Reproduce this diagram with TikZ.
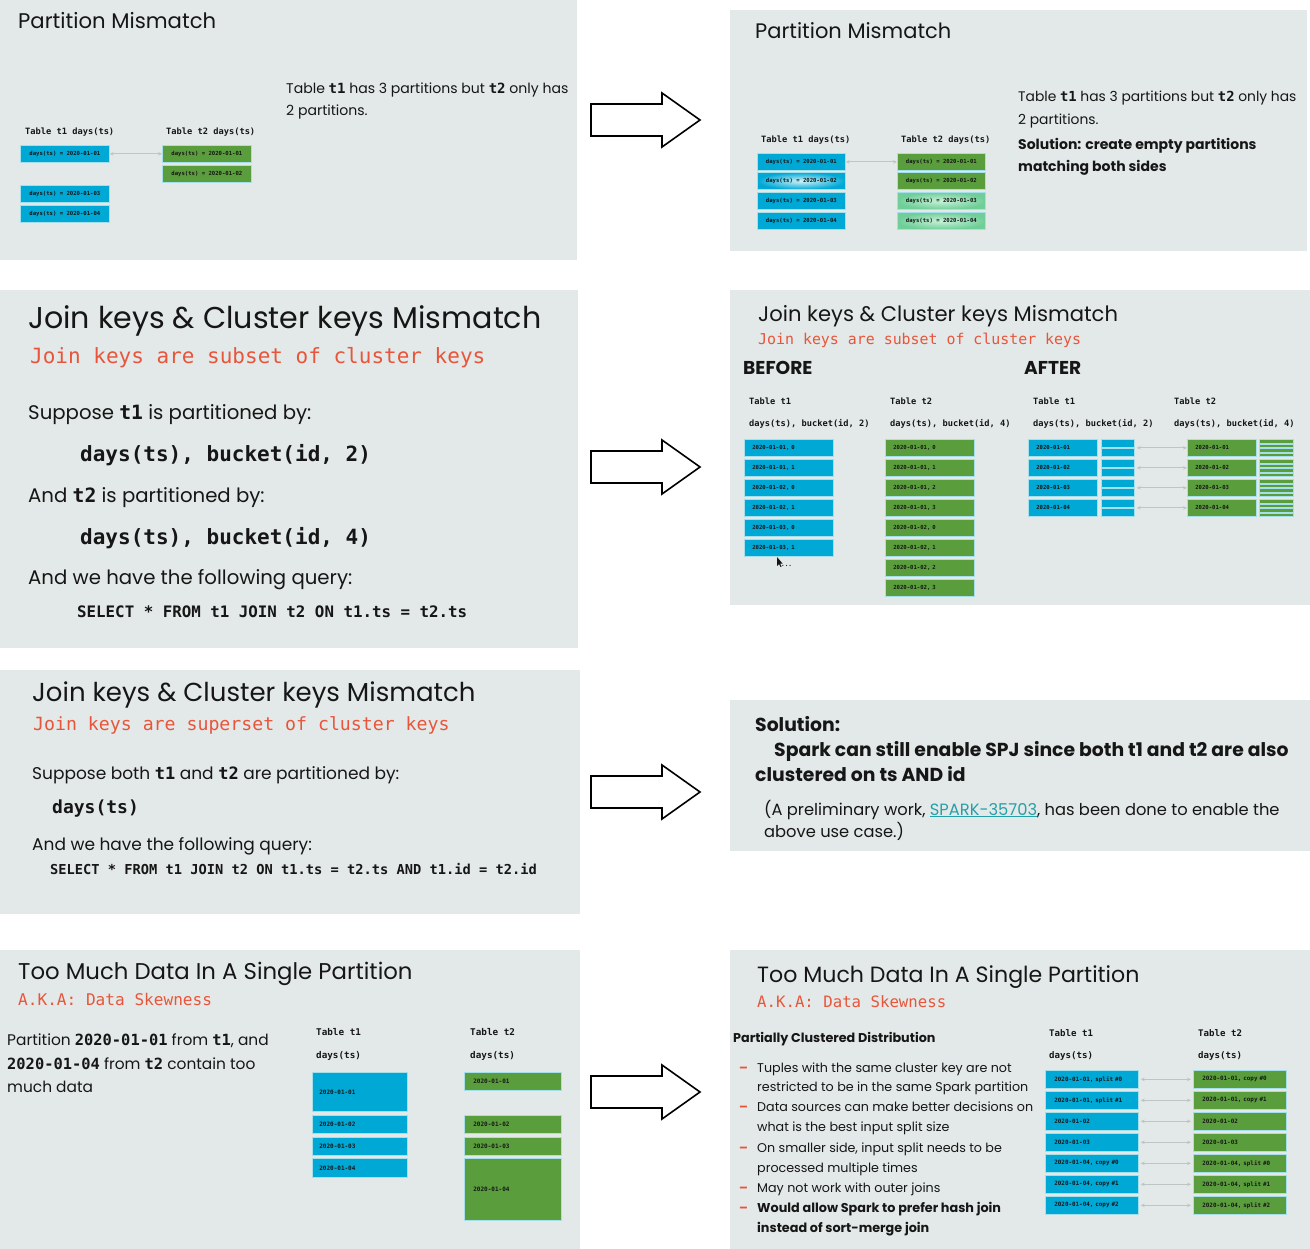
\documentclass[tikz,border=0pt]{standalone}
\usepackage{fontspec}
\setmainfont{Poppins}
\newfontfamily\monof{DejaVu Sans Mono}
\usetikzlibrary{arrows.meta}
\definecolor{panelbg}{RGB}{227,233,232}
\definecolor{cblue}{RGB}{0,168,214}
\definecolor{cgreen}{RGB}{90,157,60}
\definecolor{cline}{RGB}{165,224,234}
\definecolor{kred}{RGB}{232,85,58}
\definecolor{ink}{RGB}{22,22,22}
\definecolor{conngrey}{RGB}{190,197,196}
\definecolor{linkteal}{RGB}{38,160,168}
\definecolor{mint}{RGB}{112,206,152}
\definecolor{mintlight}{RGB}{200,242,218}
\definecolor{cyanlight}{RGB}{210,245,250}
\newcommand\ff[1]{\fontsize{#1}{#1}\selectfont}
\newcommand\cb[1]{{\monof\bfseries #1}}
\newcommand\blockarrow[1]{\draw[barrow] (591,#1-16) -- (662,#1-16) -- (662,#1-27) -- (700,#1) -- (662,#1+27) -- (662,#1+16) -- (591,#1+16) -- cycle;}
\begin{document}
\begin{tikzpicture}[x=1pt,y=-1pt,
  panel/.style={fill=panelbg},
  txt/.style={anchor=base west, inner sep=0pt, text=ink},
  red/.style={txt, text=kred},
  cell/.style={draw=cline, line width=0.7pt, anchor=north west, inner sep=0pt, text=ink, font=\monof\bfseries\ff{5.6}},
  bc/.style={cell, fill=cblue},
  gc/.style={cell, fill=cgreen},
  lft/.style={text width=#1, align=left, inner xsep=8pt},
  dashmark/.style={txt, text=kred, font=\bfseries\ff{12.7}},
  conn/.style={{Stealth[length=4pt,width=3.5pt]}-{Stealth[length=4pt,width=3.5pt]}, draw=conngrey, line width=1.1pt},
  barrow/.style={draw=black, fill=white, line width=1.6pt, line join=miter}
]
\useasboundingbox (0,0) rectangle (1310,1249);
% panels
\fill[white] (0,0) rectangle (1310,1249);
\fill[panel] (0,0) rectangle (577,260);
\fill[panel] (730,10) rectangle (1307,251);
\fill[panel] (0,290) rectangle (578,648);
\fill[panel] (730,290) rectangle (1310,605);
\fill[panel] (0,670) rectangle (580,914);
\fill[panel] (730,700) rectangle (1310,851);
\fill[panel] (0,950) rectangle (580,1249);
\fill[panel] (730,950) rectangle (1310,1249);
% block arrows
\blockarrow{120}
\blockarrow{467}
\blockarrow{792}
\blockarrow{1092}

%% ---------- Panel 1 ----------
\node[txt,font=\ff{21.2}] (p1t) at (18,29) {Partition Mismatch};
\node[txt,font=\ff{14.05}] (p1l1) at (286,94) {Table \cb{t1} has 3 partitions but \cb{t2} only has};
\node[txt,font=\ff{14.05}] (p1l2) at (286,116) {2 partitions.};
\node[txt,font=\monof\bfseries\ff{8.7}] (p1h1) at (25,135) {Table t1 days(ts)};
\node[txt,font=\monof\bfseries\ff{8.7}] (p1h2) at (166,135) {Table t2 days(ts)};
\node[bc,minimum width=89,minimum height=17] (p1a1) at (20,145) {days(ts) = 2020-01-01};
\node[bc,minimum width=89,minimum height=17] (p1a3) at (20,185) {days(ts) = 2020-01-03};
\node[bc,minimum width=89,minimum height=17] (p1a4) at (20,205) {days(ts) = 2020-01-04};
\node[gc,minimum width=89,minimum height=17] (p1b1) at (162,145) {days(ts) = 2020-01-01};
\node[gc,minimum width=89,minimum height=17] (p1b2) at (162,165) {days(ts) = 2020-01-02};
\draw[conn] (p1a1.east) -- (p1b1.west);

%% ---------- Panel 2 ----------
\node[txt,font=\ff{21}] (p2t) at (755,39) {Partition Mismatch};
\node[txt,font=\ff{13.85}] (p2l1) at (1018,102) {Table \cb{t1} has 3 partitions but \cb{t2} only has};
\node[txt,font=\ff{13.85}] (p2l2) at (1018,125) {2 partitions.};
\node[txt,font=\bfseries\ff{14}] (p2l3) at (1018,150) {Solution: create empty partitions};
\node[txt,font=\bfseries\ff{14}] (p2l4) at (1018,172) {matching both sides};
\node[txt,font=\monof\bfseries\ff{8.7}] (p2h1) at (761,143) {Table t1 days(ts)};
\node[txt,font=\monof\bfseries\ff{8.7}] (p2h2) at (901,143) {Table t2 days(ts)};
\node[bc,minimum width=88,minimum height=17] (p2a1) at (757,153) {days(ts) = 2020-01-01};
\node[cell,minimum width=88,minimum height=17,inner color=cyanlight,outer color=cblue] (p2a2) at (757,172) {days(ts) = 2020-01-02};
\node[bc,minimum width=88,minimum height=17] (p2a3) at (757,192) {days(ts) = 2020-01-03};
\node[bc,minimum width=88,minimum height=17] (p2a4) at (757,212) {days(ts) = 2020-01-04};
\node[gc,minimum width=88,minimum height=17] (p2b1) at (897,153) {days(ts) = 2020-01-01};
\node[gc,minimum width=88,minimum height=17] (p2b2) at (897,172) {days(ts) = 2020-01-02};
\node[cell,minimum width=88,minimum height=17,inner color=mintlight,outer color=mint] (p2b3) at (897,192) {days(ts) = 2020-01-03};
\node[cell,minimum width=88,minimum height=17,inner color=mintlight,outer color=mint] (p2b4) at (897,212) {days(ts) = 2020-01-04};
\draw[conn] (p2a1.east) -- (p2b1.west);

%% ---------- Panel 3 ----------
\node[txt,font=\ff{30.1}] (p3t) at (28,329) {Join keys \& Cluster keys Mismatch};
\node[red,font=\monof\ff{21}] (p3r) at (30,363) {Join keys are subset of cluster keys};
\node[txt,font=\ff{19.7}] (p3a) at (28,420) {Suppose \cb{t1} is partitioned by:};
\node[txt,font=\monof\bfseries\ff{21}] (p3b) at (80,461) {days(ts), bucket(id, 2)};
\node[txt,font=\ff{19.7}] (p3c) at (28,502) {And \cb{t2} is partitioned by:};
\node[txt,font=\monof\bfseries\ff{21}] (p3d) at (80,544) {days(ts), bucket(id, 4)};
\node[txt,font=\ff{19.7}] (p3e) at (28,584) {And we have the following query:};
\node[txt,font=\monof\bfseries\ff{15.8}] (p3f) at (77,617) {SELECT * FROM t1 JOIN t2 ON t1.ts = t2.ts};

%% ---------- Panel 4 ----------
\node[txt,font=\ff{21.1}] (p4t) at (758,322) {Join keys \& Cluster keys Mismatch};
\node[red,font=\monof\ff{14.9}] (p4r) at (758,345) {Join keys are subset of cluster keys};
\node[txt,font=\bfseries\ff{18.6}] (p4bef) at (743,375) {BEFORE};
\node[txt,font=\bfseries\ff{18.6}] (p4aft) at (1024,375) {AFTER};
\node[txt,font=\monof\bfseries\ff{8.7}] (p4h1) at (749,405) {Table t1};
\node[txt,font=\monof\bfseries\ff{8.7}] (p4h2) at (749,426) {days(ts), bucket(id, 2)};
\node[txt,font=\monof\bfseries\ff{8.7}] (p4h3) at (890,405) {Table t2};
\node[txt,font=\monof\bfseries\ff{8.7}] (p4h4) at (890,426) {days(ts), bucket(id, 4)};
\node[txt,font=\monof\bfseries\ff{8.7}] (p4h5) at (1033,405) {Table t1};
\node[txt,font=\monof\bfseries\ff{8.7}] (p4h6) at (1033,426) {days(ts), bucket(id, 2)};
\node[txt,font=\monof\bfseries\ff{8.7}] (p4h7) at (1174,405) {Table t2};
\node[txt,font=\monof\bfseries\ff{8.7}] (p4h8) at (1174,426) {days(ts), bucket(id, 4)};
\foreach \d/\k [count=\i from 0] in {01/0,01/1,02/0,02/1,03/0,03/1}
  \node[bc,lft=73,minimum height=17] (p4a\i) at (744,439+20*\i) {2020-01-\d, \k};
\foreach \d/\k [count=\i from 0] in {01/0,01/1,01/2,01/3,02/0,02/1,02/2,02/3}
  \node[gc,lft=73,minimum height=17] (p4b\i) at (885,439+20*\i) {2020-01-\d, \k};
\fill[ink] (777,557) -- (777,566) -- (779,564) -- (780.5,567) -- (781.5,566.5) -- (780,563.5) -- (782.5,563.5) -- cycle;
\node[txt,font=\monof\bfseries\ff{6}] (p4dots) at (781,566) {...};
\foreach \d [count=\i from 0] in {01,02,03,04}{
  \node[bc,lft=53,minimum height=17] (p4c\i) at (1028,439+20*\i) {2020-01-\d};
  \node[bc,minimum width=33,minimum height=8] (p4s\i) at (1101,439+20*\i) {};
  \node[bc,minimum width=33,minimum height=8] (p4u\i) at (1101,448+20*\i) {};
  \node[gc,lft=53,minimum height=17] (p4d\i) at (1187,439+20*\i) {2020-01-\d};
  \foreach \s in {0,1,2,3}
    \node[gc,minimum width=34,minimum height=3.6] (p4g\i\s) at (1259,439+20*\i+4.5*\s) {};
  \draw[conn] ([xshift=2pt]p4c\i.east -| p4s\i.east) -- (p4d\i.west);
}

%% ---------- Panel 5 ----------
\node[txt,font=\ff{26}] (p5t) at (32,701) {Join keys \& Cluster keys Mismatch};
\node[red,font=\monof\ff{18.2}] (p5r) at (33,730) {Join keys are superset of cluster keys};
\node[txt,font=\ff{17}] (p5a) at (32,779) {Suppose both \cb{t1} and \cb{t2} are partitioned by:};
\node[txt,font=\monof\bfseries\ff{18}] (p5b) at (52,813) {days(ts)};
\node[txt,font=\ff{17}] (p5c) at (32,850) {And we have the following query:};
\node[txt,font=\monof\bfseries\ff{13.7}] (p5d) at (50,874) {SELECT * FROM t1 JOIN t2 ON t1.ts = t2.ts AND t1.id = t2.id};

%% ---------- Panel 6 ----------
\node[txt,font=\bfseries\ff{18.8}] (p6a) at (755,731) {Solution:};
\node[txt,font=\bfseries\ff{18.8}] (p6b) at (774,756) {Spark can still enable SPJ since both t1 and t2 are also};
\node[txt,font=\bfseries\ff{18.8}] (p6c) at (755,781) {clustered on ts AND id};
\node[txt,font=\ff{16.3}] (p6d) at (764,815) {(A preliminary work, {\color{linkteal}\underline{SPARK-35703}}, has been done to enable the};
\node[txt,font=\ff{16.3}] (p6e) at (764,837) {above use case.)};

%% ---------- Panel 7 ----------
\node[txt,font=\ff{22.8}] (p7t) at (18,979) {Too Much Data In A Single Partition};
\node[red,font=\monof\ff{16.1}] (p7r) at (18,1005) {A.K.A: Data Skewness};
\node[txt,font=\ff{15.4}] (p7a) at (7,1045) {Partition \cb{2020-01-01} from \cb{t1}, and};
\node[txt,font=\ff{15.4}] (p7b) at (7,1069) {\cb{2020-01-04} from \cb{t2} contain too};
\node[txt,font=\ff{15.4}] (p7c) at (7,1092) {much data};
\node[txt,font=\monof\bfseries\ff{9.3}] (p7h1) at (316,1035) {Table t1};
\node[txt,font=\monof\bfseries\ff{9.3}] (p7h2) at (316,1058) {days(ts)};
\node[txt,font=\monof\bfseries\ff{9.3}] (p7h3) at (470,1035) {Table t2};
\node[txt,font=\monof\bfseries\ff{9.3}] (p7h4) at (470,1058) {days(ts)};
\node[bc,lft=81,inner xsep=7pt,minimum height=39,font=\monof\bfseries\ff{6}] (p7a1) at (312,1072) {2020-01-01};
\node[bc,lft=81,inner xsep=7pt,minimum height=18,font=\monof\bfseries\ff{6}] (p7a2) at (312,1115) {2020-01-02};
\node[bc,lft=81,inner xsep=7pt,minimum height=18,font=\monof\bfseries\ff{6}] (p7a3) at (312,1137) {2020-01-03};
\node[bc,lft=81,inner xsep=7pt,minimum height=19,font=\monof\bfseries\ff{6}] (p7a4) at (312,1158) {2020-01-04};
\node[gc,lft=79,inner xsep=9pt,minimum height=18,font=\monof\bfseries\ff{6}] (p7b1) at (464,1072) {2020-01-01};
\node[gc,lft=79,inner xsep=9pt,minimum height=18,font=\monof\bfseries\ff{6}] (p7b2) at (464,1115) {2020-01-02};
\node[gc,lft=79,inner xsep=9pt,minimum height=18,font=\monof\bfseries\ff{6}] (p7b3) at (464,1137) {2020-01-03};
\node[gc,lft=79,inner xsep=9pt,minimum height=62,font=\monof\bfseries\ff{6}] (p7b4) at (464,1158) {2020-01-04};

%% ---------- Panel 8 ----------
\node[txt,font=\ff{22.1}] (p8t) at (757,982) {Too Much Data In A Single Partition};
\node[red,font=\monof\ff{15.7}] (p8r) at (757,1007) {A.K.A: Data Skewness};
\node[txt,font=\bfseries\ff{12.75}] (p8h) at (733,1042) {Partially Clustered Distribution};
\node[dashmark] (p8d1) at (739,1072) {–};
\node[txt,font=\ff{12.7}] (p8l1) at (757,1072) {Tuples with the same cluster key are not};
\node[txt,font=\ff{12.7}] (p8l2) at (757,1091) {restricted to be in the same Spark partition};
\node[dashmark] (p8d2) at (739,1111) {–};
\node[txt,font=\ff{12.7}] (p8l3) at (757,1111) {Data sources can make better decisions on};
\node[txt,font=\ff{12.7}] (p8l4) at (757,1131) {what is the best input split size};
\node[dashmark] (p8d3) at (739,1152) {–};
\node[txt,font=\ff{12.7}] (p8l5) at (757,1152) {On smaller side, input split needs to be};
\node[txt,font=\ff{12.7}] (p8l6) at (757,1172) {processed multiple times};
\node[dashmark] (p8d4) at (739,1192) {–};
\node[txt,font=\ff{12.7}] (p8l7) at (757,1192) {May not work with outer joins};
\node[dashmark] (p8d5) at (739,1212) {–};
\node[txt,font=\bfseries\ff{12.8}] (p8l8) at (757,1212) {Would allow Spark to prefer hash join};
\node[txt,font=\bfseries\ff{12.8}] (p8l9) at (757,1232) {instead of sort-merge join};
\node[txt,font=\monof\bfseries\ff{9.1}] (p8h1) at (1049,1036) {Table t1};
\node[txt,font=\monof\bfseries\ff{9.1}] (p8h2) at (1049,1058) {days(ts)};
\node[txt,font=\monof\bfseries\ff{9.1}] (p8h3) at (1198,1036) {Table t2};
\node[txt,font=\monof\bfseries\ff{9.1}] (p8h4) at (1198,1058) {days(ts)};
\tikzset{b8/.style={lft=75,inner xsep=9pt,minimum height=18,font=\monof\bfseries\ff{5.9}}}
\node[bc,b8] (p8a0) at (1045,1070) {2020-01-01, split \#0};
\node[bc,b8] (p8a1) at (1045,1091) {2020-01-01, split \#1};
\node[bc,b8] (p8a2) at (1045,1112) {2020-01-02};
\node[bc,b8] (p8a3) at (1045,1133) {2020-01-03};
\node[bc,b8] (p8a4) at (1045,1154) {2020-01-04, copy \#0};
\node[bc,b8] (p8a5) at (1045,1175) {2020-01-04, copy \#1};
\node[bc,b8] (p8a6) at (1045,1196) {2020-01-04, copy \#2};
\node[gc,b8] (p8b0) at (1193,1070) {2020-01-01, copy \#0};
\node[gc,b8] (p8b1) at (1193,1091) {2020-01-01, copy \#1};
\node[gc,b8] (p8b2) at (1193,1112) {2020-01-02};
\node[gc,b8] (p8b3) at (1193,1133) {2020-01-03};
\node[gc,b8] (p8b4) at (1193,1154) {2020-01-04, split \#0};
\node[gc,b8] (p8b5) at (1193,1175) {2020-01-04, split \#1};
\node[gc,b8] (p8b6) at (1193,1196) {2020-01-04, split \#2};
\foreach \i in {0,...,6}
  \draw[conn,shorten <=2pt,shorten >=2pt] (p8a\i.east) -- (p8b\i.west);
\end{tikzpicture}
\end{document}
